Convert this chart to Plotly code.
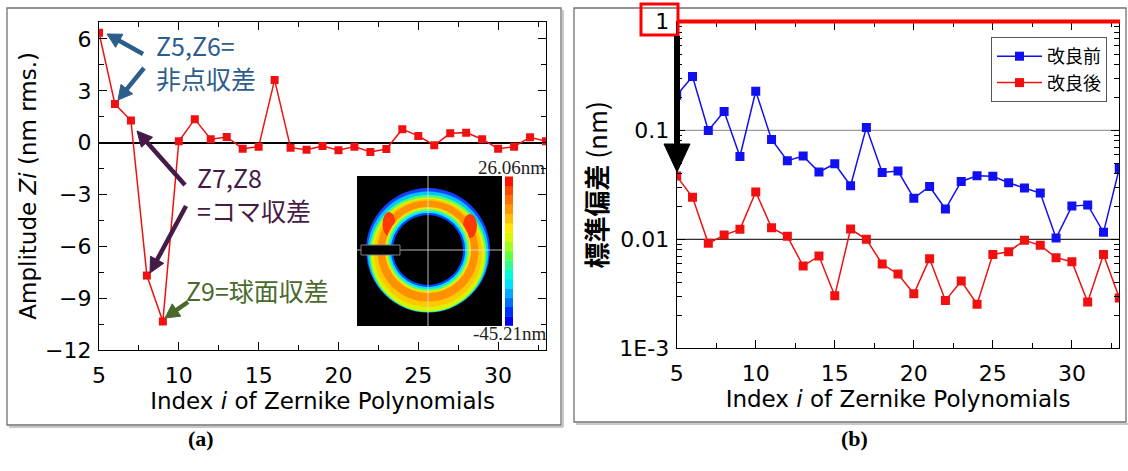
import math
import plotly.graph_objects as go

W, H = 1128, 471

# ---------------- data ----------------
zernike_index = list(range(5, 34))
amplitude_zi = [6.36, 2.23, 1.28, -7.69, -10.35, 0.08, 1.36, 0.20, 0.33, -0.35,
                -0.23, 3.63, -0.29, -0.41, -0.19, -0.44, -0.23, -0.54, -0.37, 0.78,
                0.39, -0.15, 0.54, 0.58, 0.20, -0.35, -0.23, 0.31, 0.08]
std_before = [0.210, 0.313, 0.100, 0.149, 0.0577, 0.229, 0.0827, 0.0527, 0.0581, 0.0415,
              0.0494, 0.0311, 0.1066, 0.0412, 0.0424, 0.0239, 0.0306, 0.0190, 0.0340, 0.0384,
              0.0379, 0.0331, 0.0296, 0.0266, 0.01028, 0.0202, 0.0207, 0.0116, 0.0447]
std_after = [0.0381, 0.0243, 0.00919, 0.01095, 0.01236, 0.0272, 0.0128, 0.01067, 0.00569, 0.00703,
             0.00304, 0.01245, 0.0100, 0.00594, 0.00480, 0.00317, 0.00665, 0.00274, 0.00415, 0.00254,
             0.00728, 0.00771, 0.0098, 0.00881, 0.00679, 0.00624, 0.00266, 0.00728, 0.00289]

x_ticks = [5, 10, 15, 20, 25, 30]
amp_ticks = [-12, -9, -6, -3, 0, 3, 6]
log_tickvals = [0.001, 0.01, 0.1, 1]
log_ticktext = ["1E-3", "0.01", "0.1", "1"]
series_names = ["改良前", "改良後"]

FONT = "Noto Sans CJK JP, Noto Sans, sans-serif"
LATIN = "DejaVu Sans, Noto Sans CJK JP, sans-serif"


def P(x, y):
    return x / W, 1 - y / H


shapes = []
annotations = []


def arrow(x1, y1, x2, y2, color, shaft=4, hl=14, hw=14):
    dx, dy = x2 - x1, y2 - y1
    L = math.hypot(dx, dy)
    ux, uy = dx / L, dy / L
    bx, by = x2 - ux * hl, y2 - uy * hl
    nx, ny = -uy, ux
    a = P(x1, y1)
    b = P(bx + ux * 2, by + uy * 2)
    shapes.append(dict(type="line", xref="paper", yref="paper", x0=a[0], y0=a[1],
                       x1=b[0], y1=b[1], line=dict(color=color, width=shaft)))
    p1 = P(x2, y2)
    p2 = P(bx + nx * hw / 2, by + ny * hw / 2)
    p3 = P(bx - nx * hw / 2, by - ny * hw / 2)
    path = f"M {p1[0]} {p1[1]} L {p2[0]} {p2[1]} L {p3[0]} {p3[1]} Z"
    shapes.append(dict(type="path", xref="paper", yref="paper", path=path,
                       fillcolor=color, line=dict(color=color, width=1)))


def rect(x0, y0, x1, y1, fill=None, line_color=None, lw=1):
    a = P(x0, y1)
    b = P(x1, y0)
    d = dict(type="rect", xref="paper", yref="paper", x0=a[0], y0=a[1], x1=b[0], y1=b[1],
             line=dict(color=line_color if line_color else "rgba(0,0,0,0)", width=lw if line_color else 0))
    if fill:
        d["fillcolor"] = fill
    shapes.append(d)


def ellipse(cx, cy, rx, ry, fill):
    a = P(cx - rx, cy + ry)
    b = P(cx + rx, cy - ry)
    shapes.append(dict(type="circle", xref="paper", yref="paper", x0=a[0], y0=a[1],
                       x1=b[0], y1=b[1], fillcolor=fill, line=dict(width=0)))


def hline(x0, x1, y, color, lw):
    a = P(x0, y)
    b = P(x1, y)
    shapes.append(dict(type="line", xref="paper", yref="paper", x0=a[0], y0=a[1],
                       x1=b[0], y1=b[1], line=dict(color=color, width=lw)))


def vline(x, y0, y1, color, lw):
    a = P(x, y0)
    b = P(x, y1)
    shapes.append(dict(type="line", xref="paper", yref="paper", x0=a[0], y0=a[1],
                       x1=b[0], y1=b[1], line=dict(color=color, width=lw)))


# ---------------- panel frames ----------------
hline(9, 563, 427, "#c8c8c8", 2)
vline(563, 10, 427, "#c8c8c8", 2)
rect(7, 8, 561, 425, line_color="#707070", lw=1.3)
hline(576, 1128, 424, "#c8c8c8", 2)
rect(574, 8, 1126, 422, line_color="#707070", lw=1.3)

# ---------------- traces ----------------
fig = go.Figure()
fig.add_trace(go.Scatter(x=zernike_index, y=amplitude_zi, mode="lines+markers",
                         line=dict(color="#f01010", width=1.5),
                         marker=dict(symbol="square", size=8, color="#f01010"),
                         showlegend=False, xaxis="x", yaxis="y"))
fig.add_trace(go.Scatter(x=zernike_index, y=std_before, mode="lines+markers", name=series_names[0],
                         line=dict(color="#1010f0", width=1.5),
                         marker=dict(symbol="square", size=9, color="#1010f0"),
                         xaxis="x2", yaxis="y2"))
fig.add_trace(go.Scatter(x=zernike_index, y=std_after, mode="lines+markers", name=series_names[1],
                         line=dict(color="#f01010", width=1.5),
                         marker=dict(symbol="square", size=9, color="#f01010"),
                         xaxis="x2", yaxis="y2"))

# reference lines in right panel
shapes.append(dict(type="line", xref="x2", yref="y2", x0=5, x1=33, y0=0.1, y1=0.1,
                   line=dict(color="#9a9a9a", width=1.2), layer="below"))
shapes.append(dict(type="line", xref="x2", yref="y2", x0=5, x1=33, y0=0.01, y1=0.01,
                   line=dict(color="#303030", width=1.2), layer="below"))

# ---------------- inset (surface map picture) ----------------
rect(357, 176, 502, 326, fill="black")
cx, cy = 428, 250
ellipse(cx, cy, 62, 62, "#1840ff")
ellipse(cx, cy + 2, 60.5, 60.5, "#00c8ff")
ellipse(cx, cy + 3.5, 58.5, 58.5, "#50ff70")
ellipse(cx, cy + 4.5, 57, 57, "#d8f400")
ellipse(cx, cy + 3, 54, 54, "#ffc800")
ellipse(cx, cy + 1, 50.5, 50.5, "#ff9000")
ellipse(389, 224, 6.5, 12, "#ff3a00")
ellipse(470, 226, 7, 12, "#ff3a00")
ellipse(cx, cy, 43, 43, "#f0e800")
ellipse(cx, cy, 41, 41, "#60ff70")
ellipse(cx, cy, 39.2, 39.2, "#00e8ff")
ellipse(cx, cy, 37.2, 37.2, "#0048ff")
ellipse(cx, cy, 35, 35, "black")
vline(428, 176, 326, "rgba(230,230,230,0.8)", 1)
hline(357, 502, 250, "rgba(230,230,230,0.8)", 1)
rect(361, 245, 400, 255, fill="black", line_color="#808080", lw=1)

jet = ["#0000f0", "#0030ff", "#0070ff", "#00a8ff", "#00e0ff", "#00ffd8", "#30ff90", "#60ff40",
       "#a0ff20", "#d8f800", "#ffe800", "#ffc000", "#ff9800", "#ff7000", "#ff4800", "#ff1000"]
n = len(jet)
top, bot = 176.5, 325.5
for k, c in enumerate(jet):
    y1 = bot - (bot - top) * k / n
    y0 = bot - (bot - top) * (k + 1) / n
    rect(505, y0, 513, y1 + 0.3, fill=c)

annotations.append(dict(text="26.06nm", xref="paper", yref="paper", x=P(547, 0)[0], y=P(0, 168)[1],
                        xanchor="right", yanchor="middle", showarrow=False,
                        font=dict(family="Liberation Serif, serif", size=19, color="#222")))
annotations.append(dict(text="-45.21nm", xref="paper", yref="paper", x=P(549, 0)[0], y=P(0, 333)[1],
                        xanchor="right", yanchor="middle", showarrow=False,
                        font=dict(family="Liberation Serif, serif", size=19, color="#222")))

# ---------------- left panel annotations ----------------
BLUE_T = "#2c5d8c"
PURP_T = "#451a46"
GREEN_T = "#4a6a2c"


def txt(s, x, y, color, size=25):
    annotations.append(dict(text=s, xref="paper", yref="paper", x=P(x, 0)[0], y=P(0, y)[1],
                            xanchor="left", yanchor="middle", showarrow=False, align="left",
                            font=dict(family=FONT, size=size, color=color)))


txt("Z5,Z6=<br>非点収差", 154, 62, BLUE_T)
txt("Z7,Z8<br>=コマ収差", 195, 193, PURP_T)
txt("Z9=球面収差", 184, 290, GREEN_T)

arrow(143, 54, 107, 34, BLUE_T, shaft=4.5, hl=14, hw=15)
arrow(144, 68, 118, 100, BLUE_T, shaft=4.5, hl=14, hw=15)
arrow(185, 185, 137, 131, PURP_T, shaft=4.5, hl=15, hw=15)
arrow(186, 206, 150, 273, PURP_T, shaft=4.5, hl=15, hw=15)
arrow(188, 302, 165, 318, GREEN_T, shaft=4.5, hl=14, hw=15)

# ---------------- right panel highlight ----------------
hline(679, 1120, 21.5, "#ff0000", 4)
rect(641, 4, 678, 35, line_color="#ff0000", lw=3)
arrow(677, 36, 677, 172, "black", shaft=6, hl=28, hw=26)

# ---------------- (a) (b) labels ----------------
annotations.append(dict(text="<b>(a)</b>", xref="paper", yref="paper", x=P(186, 0)[0], y=P(0, 453)[1],
                        showarrow=False, font=dict(family="Liberation Serif, serif", size=22, color="black")))
annotations.append(dict(text="<b>(b)</b>", xref="paper", yref="paper", x=P(870, 0)[0], y=P(0, 453)[1],
                        showarrow=False, font=dict(family="Liberation Serif, serif", size=22, color="black")))

axis_common = dict(showline=True, linecolor="black", linewidth=1.3, mirror="ticks", ticks="inside",
                   tickcolor="black", ticklen=8, tickwidth=1, showgrid=False, automargin=False,
                   tickfont=dict(family=LATIN, size=22, color="black"))

xa = dict(axis_common, domain=[99 / W, 546 / W], range=[5, 33], tickvals=x_ticks, anchor="y",
          ticklabelstandoff=5,
          minor=dict(dtick=2.5, ticks="inside", ticklen=5, tickcolor="black"),
          title=dict(text="Index <i>i</i> of Zernike Polynomials", font=dict(family=LATIN, size=23), standoff=3),
          zeroline=False)
ya = dict(axis_common, domain=[1 - 350 / H, 1 - 21.7 / H], range=[-12, 7], tickvals=amp_ticks, anchor="x",
          ticklabelstandoff=2,
          minor=dict(dtick=1.5, ticks="inside", ticklen=5, tickcolor="black"),
          title=dict(text="Amplitude <i>Zi</i> (nm rms.)", font=dict(family=LATIN, size=23), standoff=1),
          zeroline=True, zerolinecolor="black", zerolinewidth=1.5)
xa2 = dict(axis_common, domain=[676.7 / W, 1119.3 / W], range=[5, 33], tickvals=x_ticks, anchor="y2",
           ticklabelstandoff=5,
           minor=dict(dtick=2.5, ticks="inside", ticklen=5, tickcolor="black"),
           title=dict(text="Index <i>i</i> of Zernike Polynomials", font=dict(family=LATIN, size=23), standoff=3),
           zeroline=False)
ya2 = dict(axis_common, domain=[1 - 348.3 / H, 1 - 21.5 / H], type="log", range=[-3, 0],
           tickvals=log_tickvals, ticktext=log_ticktext, anchor="x2", ticklabelstandoff=2,
           minor=dict(ticks="inside", ticklen=5, tickcolor="black", dtick="D1"),
           title=dict(text="<b>標準偏差</b> (nm)", font=dict(family=FONT, size=26), standoff=4))

fig.update_layout(
    width=W, height=H, margin=dict(l=0, r=0, t=0, b=0, autoexpand=False),
    paper_bgcolor="white", plot_bgcolor="rgba(0,0,0,0)",
    font=dict(family=FONT, color="black"),
    xaxis=xa, yaxis=ya, xaxis2=xa2, yaxis2=ya2,
    shapes=shapes, annotations=annotations,
    legend=dict(x=1107 / W, y=1 - 37 / H, xanchor="right", yanchor="top",
                bgcolor="white", bordercolor="#555", borderwidth=1,
                font=dict(family=FONT, size=18, color="black"),
                tracegroupgap=0, itemwidth=45),
)

fig.write_html("out.html", config={"displayModeBar": False},
               post_script="document.body.style.margin='0';")
